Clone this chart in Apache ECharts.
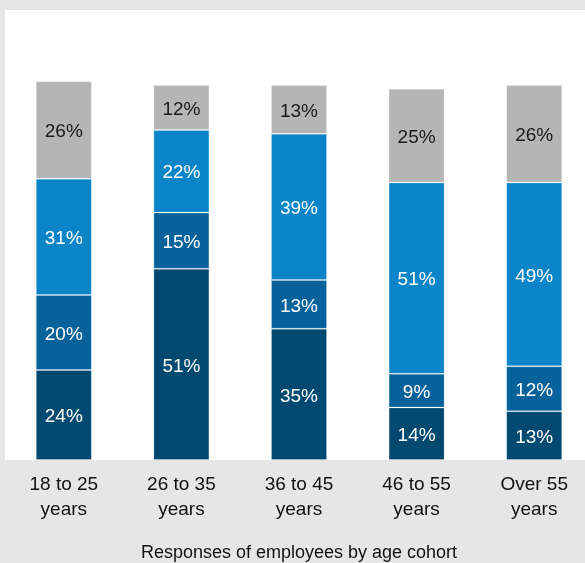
<!DOCTYPE html>
<html>
<head>
<meta charset="utf-8">
<script src="https://cdn.jsdelivr.net/npm/echarts@6/dist/echarts.min.js"></script>
<style>
  html, body { margin: 0; padding: 0; background: #e6e6e6; }
  #main { width: 585px; height: 563px; }
</style>
</head>
<body>
<div id="main"></div>
<script>
var cohorts = ['18 to 25\nyears', '26 to 35\nyears', '36 to 45\nyears', '46 to 55\nyears', 'Over 55\nyears'];
var darkBlue = [24, 51, 35, 14, 13];
var midBlue = [20, 15, 13, 9, 12];
var brightBlue = [31, 22, 39, 51, 49];
var grey = [26, 12, 13, 25, 26];

var fontFam = '"Liberation Sans", Arial, sans-serif';

function seg(data, color, textColor) {
  return {
    type: 'bar',
    stack: 'all',
    barWidth: 56,
    data: data,
    itemStyle: {
      color: color,
      borderColor: 'rgba(255,255,255,0.2)',
      borderWidth: 1
    },
    label: {
      show: true,
      position: 'inside',
      offset: [0, 2],
      formatter: '{c}%',
      color: textColor,
      fontFamily: fontFam,
      fontSize: 19
    },
    emphasis: { disabled: true }
  };
}

var chart = echarts.init(document.getElementById('main'));
var option = {
  backgroundColor: '#e6e6e6',
  animation: false,
  grid: {
    show: true,
    left: 5,
    width: 588,
    top: 10,
    bottom: 103,
    outerBoundsMode: 'none',
    containLabel: false,
    backgroundColor: '#ffffff',
    borderWidth: 0
  },
  xAxis: {
    type: 'category',
    data: cohorts,
    axisLine: { show: false },
    axisTick: { show: false },
    axisLabel: {
      color: '#111',
      fontFamily: fontFam,
      fontSize: 19,
      lineHeight: 25,
      margin: 12,
      interval: 0
    },
    name: 'Responses of employees by age cohort',
    nameLocation: 'middle',
    nameGap: 84,
    nameTextStyle: {
      color: '#111',
      fontFamily: fontFam,
      fontSize: 18
    }
  },
  yAxis: {
    type: 'value',
    min: 0,
    max: 120,
    show: false,
    splitLine: { show: false }
  },
  series: [
    seg(darkBlue, '#004a72', '#ffffff'),
    seg(midBlue, '#07629b', '#ffffff'),
    seg(brightBlue, '#0b85c7', '#ffffff'),
    seg(grey, '#b5b5b5', '#1a1a1a')
  ]
};
chart.setOption(option);
</script>
</body>
</html>
